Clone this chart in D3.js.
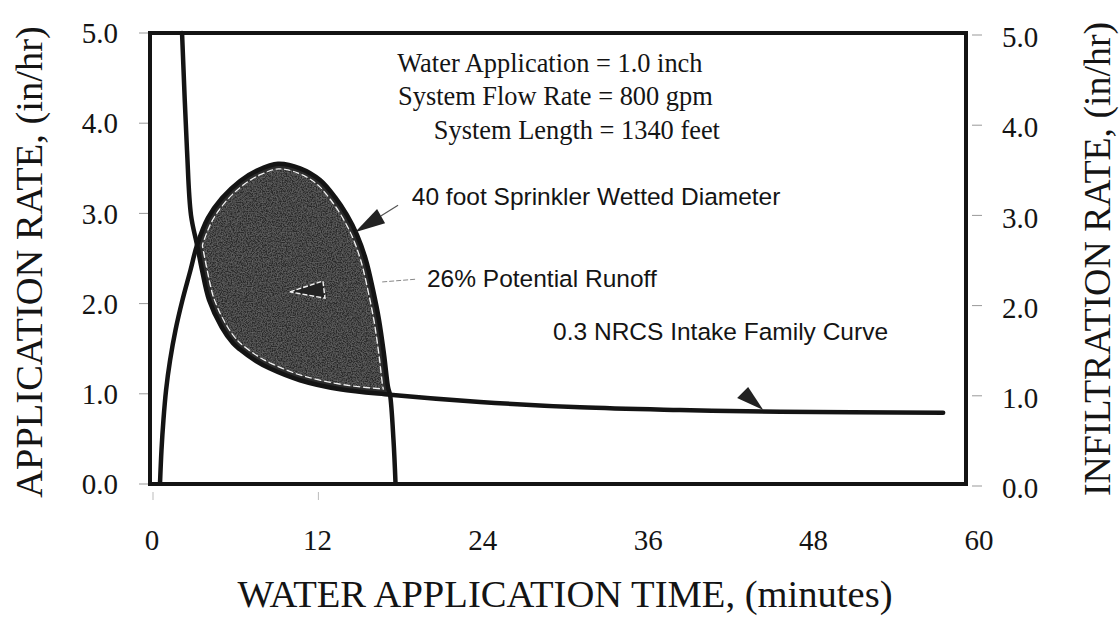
<!DOCTYPE html>
<html>
<head>
<meta charset="utf-8">
<script src="https://cdn.jsdelivr.net/npm/d3@7"></script>
<style>
  html, body { margin: 0; padding: 0; background: #fff; }
  svg { display: block; }
</style>
</head>
<body>
<svg id="chart" width="1120" height="617"></svg>
<script>
// ---------- data ----------
const timeTicks = [0, 12, 24, 36, 48, 60];
const rateTicks = [0, 1, 2, 3, 4, 5];

// Application rate curve (40 foot sprinkler wetted diameter)
const applicationTime = [0.58, 0.69, 0.83, 1.02, 1.31, 1.71, 2.21, 2.79, 3.27, 4.06, 5.08, 6.39, 7.69, 9.14, 10.74, 12.19, 13.28, 14.15, 14.88, 15.53, 16.04, 16.47, 16.84, 17.13, 17.27, 17.52, 17.67];
const applicationRate = [0.0, 0.38, 0.71, 1.04, 1.37, 1.71, 2.04, 2.37, 2.65, 2.95, 3.17, 3.36, 3.48, 3.55, 3.50, 3.37, 3.18, 2.98, 2.76, 2.48, 2.15, 1.82, 1.43, 1.07, 0.99, 0.49, 0.0];

// Infiltration rate curve (0.3 NRCS intake family)
const infiltrationTime = [2.18, 2.54, 2.83, 3.27, 3.63, 4.14, 5.05, 5.88, 6.39, 7.47, 8.56, 10.74, 13.64, 17.27, 23.8, 31.06, 38.3, 45.6, 57.4];
const infiltrationRate = [5.0, 3.70, 2.98, 2.65, 2.37, 2.04, 1.74, 1.56, 1.49, 1.37, 1.28, 1.15, 1.05, 0.99, 0.91, 0.85, 0.82, 0.80, 0.79];

// Text
const xTitle = "WATER APPLICATION TIME, (minutes)";
const yTitleLeft = "APPLICATION RATE, (in/hr)";
const yTitleRight = "INFILTRATION RATE, (in/hr)";
const systemNotes = ["Water Application = 1.0 inch", "System Flow Rate = 800 gpm", "System Length = 1340 feet"];
const curveNotes = ["40 foot Sprinkler Wetted Diameter", "26% Potential Runoff", "0.3 NRCS Intake Family Curve"];

// ---------- layout ----------
const svg = d3.select("#chart");
const x = d3.scaleLinear().domain([0, 60]).range([152, 979]);
const y = d3.scaleLinear().domain([0, 5]).range([484, 33]);
const frameRight = 966;
const SERIF = "'Liberation Serif', 'Times New Roman', serif";
const SANS = "'Liberation Sans', Arial, sans-serif";
const INK = "#141414";
const SHADE = "#2b2b2b";

const appPts = applicationTime.map((t, i) => [t, applicationRate[i]]);
const infPts = infiltrationTime.map((t, i) => [t, infiltrationRate[i]]);

const line = d3.line().x(d => x(d[0])).y(d => y(d[1])).curve(d3.curveCatmullRom.alpha(0.5));
const appD = line(appPts);
const infD = line(infPts);

// ---------- shaded runoff area: below application curve AND above infiltration curve ----------
const defs = svg.append("defs");
defs.append("clipPath").attr("id", "underApp").append("path").attr("d", appD + "Z");
const infFirst = infPts[0], infLast = infPts[infPts.length - 1];
defs.append("clipPath").attr("id", "aboveInf").append("path")
  .attr("d", infD + `L${x(infLast[0])},${y(5)}L${x(infFirst[0])},${y(5)}Z`);

const filt = defs.append("filter").attr("id", "grain").attr("x", 0).attr("y", 0).attr("width", 1).attr("height", 1);
filt.append("feTurbulence").attr("type", "fractalNoise").attr("baseFrequency", 0.8).attr("numOctaves", 2).attr("seed", 3).attr("result", "noise");
filt.append("feColorMatrix").attr("in", "noise").attr("type", "matrix")
  .attr("values", "0 0 0 0 0.5  0 0 0 0 0.5  0 0 0 0 0.5  0 0 0 0.45 -0.14").attr("result", "speck");
filt.append("feComposite").attr("in", "speck").attr("in2", "SourceGraphic").attr("operator", "in").attr("result", "sp2");
filt.append("feMerge").selectAll("feMergeNode").data(["SourceGraphic", "sp2"]).join("feMergeNode").attr("in", d => d);

const region = svg.append("g").attr("clip-path", "url(#underApp)")
  .append("g").attr("clip-path", "url(#aboveInf)");
region.append("path").attr("d", appD + "Z").attr("fill", SHADE).attr("filter", "url(#grain)");
// inset white dashed outline: wide dashed white stroke, then a narrower solid shade stroke on top
[appD, infD].forEach(d => {
  region.append("path").attr("d", d).attr("fill", "none").attr("stroke", "#f2f2f2")
    .attr("stroke-width", 11.5).attr("stroke-dasharray", "7,3");
});
[appD, infD].forEach(d => {
  region.append("path").attr("d", d).attr("fill", "none").attr("stroke", SHADE).attr("stroke-width", 8.8);
});

// ---------- axes ticks ----------
const tickColor = "#999";
svg.append("g").selectAll("line").data(rateTicks).join("line")
  .attr("x1", x(0) - 13).attr("x2", x(0) - 2).attr("y1", d => y(d)).attr("y2", d => y(d))
  .attr("stroke", tickColor).attr("stroke-width", 1);
svg.append("g").selectAll("line").data(rateTicks).join("line")
  .attr("x1", frameRight + 6).attr("x2", frameRight + 16).attr("y1", d => y(d) + 2).attr("y2", d => y(d) + 2)
  .attr("stroke", tickColor).attr("stroke-width", 1);
svg.append("g").selectAll("line").data(timeTicks.slice(0, 2)).join("line")
  .attr("x1", d => x(d) + 1).attr("x2", d => x(d) + 1).attr("y1", y(0) + 8).attr("y2", y(0) + 16)
  .attr("stroke", "#bbb").attr("stroke-width", 1);

// tick labels
svg.append("g").selectAll("text").data(rateTicks).join("text")
  .attr("x", 118).attr("y", d => y(d)).attr("dy", "0.35em").attr("text-anchor", "end")
  .attr("font-family", SERIF).attr("font-size", 29).attr("fill", INK)
  .text(d => d.toFixed(1));
svg.append("g").selectAll("text").data(rateTicks).join("text")
  .attr("x", 1002).attr("y", d => y(d) + 4).attr("dy", "0.35em").attr("text-anchor", "start")
  .attr("font-family", SERIF).attr("font-size", 29).attr("fill", INK)
  .text(d => d.toFixed(1));
svg.append("g").selectAll("text").data(timeTicks).join("text")
  .attr("x", d => x(d)).attr("y", 550).attr("text-anchor", "middle")
  .attr("font-family", SERIF).attr("font-size", 29).attr("fill", INK)
  .text(d => d);

// axis titles
svg.append("text").attr("x", 565).attr("y", 607).attr("text-anchor", "middle")
  .attr("font-family", SERIF).attr("font-size", 38.6).attr("fill", INK).text(xTitle);
svg.append("text").attr("transform", "translate(42,262) rotate(-90)").attr("text-anchor", "middle")
  .attr("font-family", SERIF).attr("font-size", 38.5).attr("fill", INK).text(yTitleLeft);
svg.append("text").attr("transform", "translate(1110,259) rotate(-90)").attr("text-anchor", "middle")
  .attr("font-family", SERIF).attr("font-size", 37.8).attr("fill", INK).text(yTitleRight);

// ---------- curves ----------
svg.append("path").attr("d", appD).attr("fill", "none").attr("stroke", INK).attr("stroke-width", 4.5);
svg.append("path").attr("d", infD).attr("fill", "none").attr("stroke", INK).attr("stroke-width", 4.5).attr("stroke-linecap", "round");

// ---------- frame ----------
svg.append("rect").attr("x", x(0) - 2).attr("y", y(5)).attr("width", frameRight - x(0) + 2).attr("height", y(0) - y(5))
  .attr("fill", "none").attr("stroke", INK).attr("stroke-width", 4);

// ---------- annotations ----------
const noteAnchors = [[17.8, 4.57], [17.85, 4.20], [20.45, 3.82]];
svg.append("g").selectAll("text").data(systemNotes).join("text")
  .attr("x", (d, i) => x(noteAnchors[i][0])).attr("y", (d, i) => y(noteAnchors[i][1]))
  .attr("font-family", SERIF).attr("font-size", 26.4).attr("fill", INK).text(d => d);

const curveNoteAnchors = [[18.85, 3.09], [19.95, 2.18], [29.1, 1.60]];
svg.append("g").selectAll("text").data(curveNotes).join("text")
  .attr("x", (d, i) => x(curveNoteAnchors[i][0])).attr("y", (d, i) => y(curveNoteAnchors[i][1]))
  .attr("font-family", SANS).attr("font-size", 24.5).attr("fill", INK).text(d => d);

// pointer: 40 foot sprinkler
const sprinklerArrow = [[14.73, 2.79], [16.33, 3.05], [16.91, 2.89]];
const sprinklerLeader = [[16.6, 2.97], [17.85, 3.09]];
svg.append("line").attr("x1", x(sprinklerLeader[0][0])).attr("y1", y(sprinklerLeader[0][1]))
  .attr("x2", x(sprinklerLeader[1][0])).attr("y2", y(sprinklerLeader[1][1]))
  .attr("stroke", "#555").attr("stroke-width", 1.2);
svg.append("polygon").attr("points", sprinklerArrow.map(d => [x(d[0]), y(d[1])].join(",")).join(" "))
  .attr("fill", "#222");

// pointer: potential runoff
const runoffArrow = [[10.0, 2.13], [12.4, 2.25], [12.55, 2.06]];
const runoffLeader = [[16.7, 2.24], [19.1, 2.27]];
svg.append("line").attr("x1", x(runoffLeader[0][0])).attr("y1", y(runoffLeader[0][1]))
  .attr("x2", x(runoffLeader[1][0])).attr("y2", y(runoffLeader[1][1]))
  .attr("stroke", "#888").attr("stroke-width", 1).attr("stroke-dasharray", "5,2");
svg.append("polygon").attr("points", runoffArrow.map(d => [x(d[0]), y(d[1])].join(",")).join(" "))
  .attr("fill", "#222").attr("stroke", "#f2f2f2").attr("stroke-width", 1.4).attr("stroke-dasharray", "5,2");

// pointer: intake family curve
const intakeArrow = [[43.25, 1.075], [42.45, 0.953], [44.35, 0.82]];
svg.append("polygon").attr("points", intakeArrow.map(d => [x(d[0]), y(d[1])].join(",")).join(" "))
  .attr("fill", "#222");
</script>
</body>
</html>
